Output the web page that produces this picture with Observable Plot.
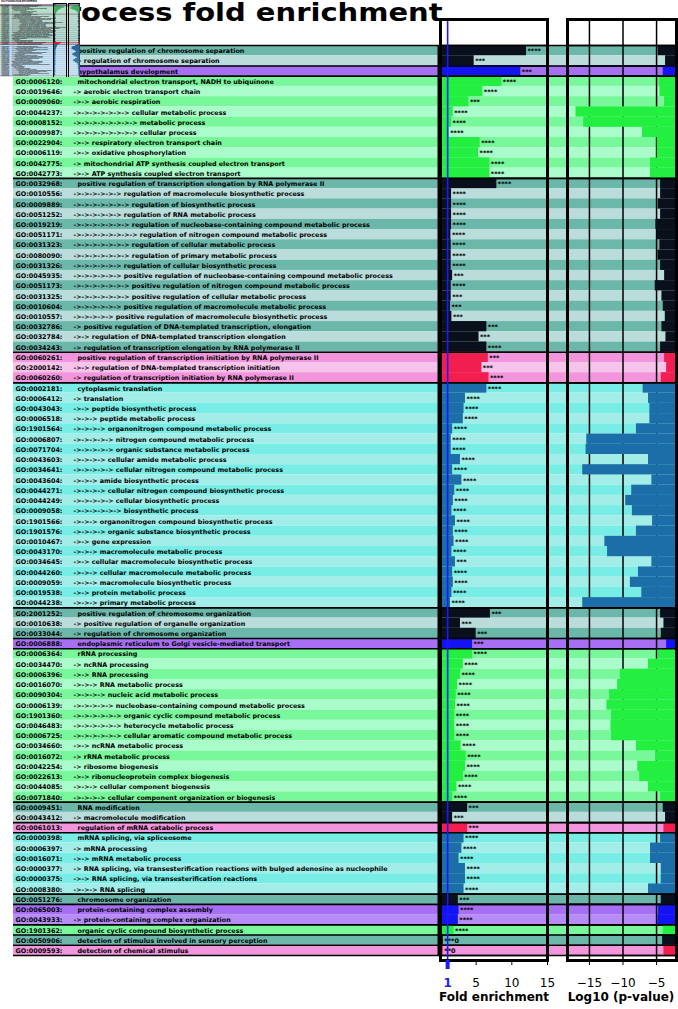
<!DOCTYPE html>
<html><head><meta charset="utf-8">
<script src="https://cdn.jsdelivr.net/npm/d3@7"></script>
<script src="https://cdn.jsdelivr.net/npm/@observablehq/plot@0.6"></script>
<style>
body{margin:0;background:#fff;}
#wrap{position:relative;width:678px;height:1009px;overflow:hidden;}
#wrap svg{position:absolute;left:0;top:0;}
#title{position:absolute;left:-13px;top:-2px;font:bold 25px "DejaVu Sans",sans-serif;white-space:nowrap;color:#000;transform:scaleX(1.16);transform-origin:0 0;}
.axt{position:absolute;top:990px;font:bold 12px "DejaVu Sans",sans-serif;transform:translateX(-50%);white-space:nowrap;}
#thumb{position:absolute;left:0;top:0;width:80px;height:77px;background:#fff;overflow:hidden;}
#thumb svg{position:absolute;left:0;top:0;}
</style></head><body>
<div id="wrap"><div id="title">GO Process fold enrichment</div></div>
<script>
const goIds = ["GO:1905820:","GO:1905818:","GO:0021854:","GO:0006120:","GO:0019646:","GO:0009060:","GO:0044237:","GO:0008152:","GO:0009987:","GO:0022904:","GO:0006119:","GO:0042775:","GO:0042773:",
"GO:0032968:","GO:0010556:","GO:0009889:","GO:0051252:","GO:0019219:","GO:0051171:","GO:0031323:","GO:0080090:","GO:0031326:","GO:0045935:","GO:0051173:","GO:0031325:","GO:0010604:","GO:0010557:","GO:0032786:","GO:0032784:","GO:0034243:",
"GO:0060261:","GO:2000142:","GO:0060260:",
"GO:0002181:","GO:0006412:","GO:0043043:","GO:0006518:","GO:1901564:","GO:0006807:","GO:0071704:","GO:0043603:","GO:0034641:","GO:0043604:","GO:0044271:","GO:0044249:","GO:0009058:","GO:1901566:","GO:1901576:","GO:0010467:","GO:0043170:","GO:0034645:","GO:0044260:","GO:0009059:","GO:0019538:","GO:0044238:",
"GO:2001252:","GO:0010638:","GO:0033044:","GO:0006888:",
"GO:0006364:","GO:0034470:","GO:0006396:","GO:0016070:","GO:0090304:","GO:0006139:","GO:1901360:","GO:0046483:","GO:0006725:","GO:0034660:","GO:0016072:","GO:0042254:","GO:0022613:","GO:0044085:","GO:0071840:",
"GO:0009451:","GO:0043412:","GO:0061013:",
"GO:0000398:","GO:0006397:","GO:0016071:","GO:0000377:","GO:0000375:","GO:0008380:",
"GO:0051276:","GO:0065003:","GO:0043933:","GO:1901362:","GO:0050906:","GO:0009593:"];

const terms = ["positive regulation of chromosome separation","-> regulation of chromosome separation","hypothalamus development","mitochondrial electron transport, NADH to ubiquinone","-> aerobic electron transport chain","->-> aerobic respiration","->->->->->->-> cellular metabolic process","->->->->->->->-> metabolic process","->->->->->->->-> cellular process","->-> respiratory electron transport chain","->-> oxidative phosphorylation","-> mitochondrial ATP synthesis coupled electron transport","->-> ATP synthesis coupled electron transport",
"positive regulation of transcription elongation by RNA polymerase II","->->->->->-> regulation of macromolecule biosynthetic process","->->->->->->-> regulation of biosynthetic process","->->->->->-> regulation of RNA metabolic process","->->->->->->-> regulation of nucleobase-containing compound metabolic process","->->->->->->->-> regulation of nitrogen compound metabolic process","->->->->->->-> regulation of cellular metabolic process","->->->->->->-> regulation of primary metabolic process","->->->->->-> regulation of cellular biosynthetic process","->->->->->-> positive regulation of nucleobase-containing compound metabolic process","->->->->->->-> positive regulation of nitrogen compound metabolic process","->->->->->->-> positive regulation of cellular metabolic process","->->->->->-> positive regulation of macromolecule metabolic process","->->->->-> positive regulation of macromolecule biosynthetic process","-> positive regulation of DNA-templated transcription, elongation","->-> regulation of DNA-templated transcription elongation","-> regulation of transcription elongation by RNA polymerase II",
"positive regulation of transcription initiation by RNA polymerase II","->-> regulation of DNA-templated transcription initiation","-> regulation of transcription initiation by RNA polymerase II",
"cytoplasmic translation","-> translation","->-> peptide biosynthetic process","->->-> peptide metabolic process","->->->-> organonitrogen compound metabolic process","->->->->-> nitrogen compound metabolic process","->->->->-> organic substance metabolic process","->->->-> cellular amide metabolic process","->->->->-> cellular nitrogen compound metabolic process","->->-> amide biosynthetic process","->->->-> cellular nitrogen compound biosynthetic process","->->->->-> cellular biosynthetic process","->->->->->-> biosynthetic process","->->-> organonitrogen compound biosynthetic process","->->->-> organic substance biosynthetic process","->-> gene expression","->->-> macromolecule metabolic process","->-> cellular macromolecule biosynthetic process","->->-> cellular macromolecule metabolic process","->->-> macromolecule biosynthetic process","->-> protein metabolic process","->->-> primary metabolic process",
"positive regulation of chromosome organization","-> positive regulation of organelle organization","-> regulation of chromosome organization","endoplasmic reticulum to Golgi vesicle-mediated transport",
"rRNA processing","-> ncRNA processing","->-> RNA processing","->->-> RNA metabolic process","->->->-> nucleic acid metabolic process","->->->->-> nucleobase-containing compound metabolic process","->->->->->-> organic cyclic compound metabolic process","->->->->->-> heterocycle metabolic process","->->->->->-> cellular aromatic compound metabolic process","->-> ncRNA metabolic process","-> rRNA metabolic process","-> ribosome biogenesis","->-> ribonucleoprotein complex biogenesis","->->-> cellular component biogenesis","->->->-> cellular component organization or biogenesis",
"RNA modification","-> macromolecule modification","regulation of mRNA catabolic process",
"mRNA splicing, via spliceosome","-> mRNA processing","->-> mRNA metabolic process","-> RNA splicing, via transesterification reactions with bulged adenosine as nucleophile","->-> RNA splicing, via transesterification reactions","->->-> RNA splicing",
"chromosome organization","protein-containing complex assembly","-> protein-containing complex organization","organic cyclic compound biosynthetic process","detection of stimulus involved in sensory perception","detection of chemical stimulus"];

// clusters: category and number of rows
const clusterKinds = ["teal","purple","green","teal","pink","cyan","teal","purple","green","teal","pink","cyan","teal","purple","green","teal","pink"];
const clusterSizes = [2,1,10,17,3,22,3,1,15,2,1,6,1,2,1,1,1];

const foldEnrichment = [12.06,4.72,11.26,8.6,5.94,3.98,1.78,1.55,1.22,5.56,5.34,6.92,6.92,
7.9,1.55,1.55,1.55,1.55,1.46,1.5,1.5,1.5,1.7,1.5,1.5,1.4,1.6,6.5,5.4,6.5,
6.7,5.8,6.8,
6.5,3.5,3.3,3.2,1.7,1.5,1.5,2.8,1.7,3.0,2.0,1.8,1.6,2.1,1.8,1.9,1.6,2.1,1.7,1.8,1.6,1.4,
7.0,2.8,5.0,4.5,
4.5,3.2,2.8,2.4,2.2,2.1,2.0,2.0,2.0,2.9,3.6,3.5,3.2,2.3,1.7,
3.8,1.7,3.8,
3.3,3.0,2.6,3.5,3.5,3.3,
2.5,2.6,2.5,1.9,0.4,0.4];

const log10p = [-4.75,-3.66,-4.0,-4.6,-4.5,-3.8,-17.0,-15.85,-7.1,-4.9,-4.9,-5.9,-5.9,
-4.4,-4.4,-4.75,-4.4,-5.1,-4.9,-4.5,-4.8,-4.4,-3.8,-5.2,-4.2,-4.0,-3.7,-4.2,-3.6,-4.4,
-3.8,-3.5,-4.3,
-7.0,-6.2,-6.0,-6.0,-8.0,-15.4,-15.5,-6.2,-16.0,-5.7,-8.7,-9.6,-8.6,-5.6,-8.0,-12.7,-12.3,-5.7,-7.7,-8.9,-7.2,-16.0,
-4.4,-3.9,-4.3,-3.5,
-4.8,-6.2,-10.4,-10.8,-12.0,-12.4,-11.7,-11.8,-11.7,-8.0,-5.1,-7.8,-7.5,-6.2,-4.4,
-4.0,-3.66,-3.9,
-4.4,-5.9,-5.9,-4.3,-4.3,-6.2,
-4.3,-4.7,-4.8,-4.0,-4.1,-3.9];

const stars = ["****","***","***","****","****","***","****","****","****","****","****","****","****",
"****","****","****","****","****","****","****","****","****","***","****","***","***","***","***","***","****",
"***","***","****",
"****","****","****","****","****","****","****","****","****","****","****","****","****","****","****","****","****","***","****","****","****","****",
"***","***","***","***",
"****","****","****","****","****","****","****","****","****","****","****","****","****","****","****",
"***","***","***",
"****","****","****","****","****","****",
"***","****","****","****","***0","**0"];

const foldTicks = [5,10,15];
const refFold = [1];
const pTicks = [-15,-10,-5];

// miniature copy of an earlier chart sitting in the top-left corner
const thumbTitle = "GO Process fold enrichment";
const thumbKinds = ["purple","green","teal","pink","cyan"];
const thumbSizes = [1,8,28,2,31];
const thumbFold = [2.0, 6,7,5,4,3,2.5,2,1.5,
1.5,1.2,1.4,1.3,1.6,1.2,1.3,1.5,1.2,1.4,1.3,1.2,1.6,1.4,1.3,1.2,1.5,1.3,1.2,1.4,1.3,1.5,1.2,1.3,1.4,1.3,1.2,1.5,
5,4,
3,2.5,2.2,2,1.8,1.6,1.5,1.5,1.4,1.6,1.5,1.4,1.3,1.5,1.4,1.3,1.6,1.4,1.3,1.5,1.4,1.3,1.2,1.4,1.3,1.2,1.5,1.3,1.2,1.4,1.3];
const thumbLog10p = [-3, -8,-10,-12,-9,-6,-4,-3,-3,
-2.5,-2,-3,-2.2,-2.8,-2,-2.4,-3,-2.1,-2.6,-2.2,-2,-2.9,-2.4,-2.1,-2,-2.7,-2.3,-2,-2.5,-2.2,-2.8,-2,-2.3,-2.6,-2.2,-2.5,-2.1,
-3,-2.5,
-4,-6,-9,-10,-10,-8,-6,-5,-7,-9,-9,-7,-5,-4,-6,-8,-8,-6,-4,-3,-3,-2.5,-2.5,-3,-2.5,-2,-2.5,-2,-2,-2.5,-2];

// ---- styling ----
const bandColors = {teal:["#6bb8aa","#badddb"], purple:["#a76ff4","#b78cf6"], green:["#78f79b","#aafccb"], pink:["#f295dc","#f6c3ea"], cyan:["#78ede5","#a2ede8"]};
const barColors = {teal:"#0a0f1c", purple:"#1414f2", green:"#22ef40", pink:"#f11e4f", cyan:"#1b6ea7"};
const thumbBand = {purple:["#7a2f8f","#7a2f8f"], green:["#8ccaa8","#b3dcc6"], teal:["#92c2b5","#bbd9d1"], pink:["#f1a3b6","#f1a3b6"], cyan:["#9ec8e2","#c3deee"]};
const thumbBar = {purple:"#2a0e5a", green:"#1c9a3e", teal:"#0d1a24", pink:"#e8102a", cyan:"#1c5a90"};
const FONT = "DejaVu Sans";

function buildRows(kinds, sizes, extra) {
  const out = [], b = [0];
  let k = 0;
  kinds.forEach((kind, c) => {
    for (let j = 0; j < sizes[c]; j++, k++) out.push({i: k, kind, alt: j % 2, ...extra(k)});
    b.push(k);
  });
  return [out, b];
}
const [rows, bounds] = buildRows(clusterKinds, clusterSizes, k => ({go: goIds[k], term: terms[k], top: !terms[k].startsWith("->"), fold: foldEnrichment[k], p: log10p[k], stars: stars[k]}));

const W = 678, H = 1009, MT = 19, MB = 49;
const N = rows.length;
const rowPx = 10.2247;
const yOpt = {domain: [N + 5 / rowPx, -26 / rowPx], axis: null};
const base = {width: W, height: H, marginTop: MT, marginBottom: MB, style: {background: "transparent", overflow: "visible"}};
const bandFill = d => bandColors[d.kind][d.alt];
const barFill = d => barColors[d.kind];

// background bands + cluster separators
const bg = Plot.plot({...base, marginLeft: 13, marginRight: 2,
  x: {domain: [0, 1], axis: null}, y: yOpt,
  marks: [
    Plot.rect(rows, {x1: 0, x2: 1, y1: "i", y2: d => d.i + 1, fill: bandFill}),
    Plot.ruleY(bounds, {y: d => d, x1: 0, x2: 1, stroke: "#000", strokeWidth: 1.6})
  ]});

const labels = Plot.plot({...base, marginLeft: 13, marginRight: 240,
  x: {domain: [0, 1], axis: null}, y: yOpt,
  marks: [
    Plot.text(rows, {x: 0, y: d => d.i + 0.5, text: "go", textAnchor: "start", dx: 2, dy: 0.5, fontSize: 6.4, fontWeight: "bold", fontFamily: FONT, fill: "#000"}),
    Plot.text(rows, {x: 0, y: d => d.i + 0.5, text: "term", textAnchor: "start", dy: 0.5, fontSize: 6.4, fontWeight: "bold", fontFamily: FONT, fill: "#000"}),
    Plot.ruleX([1], {y1: 0, y2: N, stroke: "#000", strokeWidth: 2})
  ]});
labels.querySelectorAll("g[aria-label='text']")[1].querySelectorAll("text").forEach((t, idx) => {
  t.setAttribute("dx", rows[idx].top ? 64 : 60);
});

const fold = Plot.plot({...base, marginLeft: 440, marginRight: 131,
  x: {domain: [0, 15], axis: null}, y: yOpt,
  marks: [
    Plot.rect(rows, {x1: 0, x2: "fold", y1: "i", y2: d => d.i + 1, fill: barFill}),
    Plot.ruleY(bounds, {y: d => d, stroke: "#000", strokeWidth: 1.6}),
    Plot.text(rows, {x: "fold", y: d => d.i + 0.5, text: "stars", textAnchor: "start", dx: 1, dy: 0.5, fontSize: 6.4, fontWeight: "bold", fontFamily: FONT, fill: "#000"}),
    Plot.ruleX(refFold, {stroke: "#1a1aff", strokeWidth: 1.6}),
    Plot.frame({stroke: "#000", strokeWidth: 3}),
    Plot.axisX(foldTicks, {tickSize: 5, fontSize: 12, fontFamily: FONT, label: null, tickPadding: 13}),
    Plot.axisX(refFold, {tickSize: 9, stroke: "#1a1aff", strokeWidth: 4, fill: "#1a1aff", fontSize: 12, fontWeight: "bold", fontFamily: FONT, label: null, tickPadding: 9})
  ]});

const pv = Plot.plot({...base, marginLeft: 567, marginRight: 2,
  x: {domain: [-18.27, -2.03], axis: null}, y: yOpt,
  marks: [
    Plot.ruleX(pTicks, {stroke: "#000", strokeWidth: 1.5}),
    Plot.rect(rows, {x1: "p", x2: 0, y1: "i", y2: d => d.i + 1, fill: barFill, clip: true}),
    Plot.ruleY(bounds, {y: d => d, stroke: "#000", strokeWidth: 1.6}),
    Plot.frame({stroke: "#000", strokeWidth: 3}),
    Plot.axisX(pTicks, {tickSize: 5, fontSize: 12, fontFamily: FONT, label: null, tickPadding: 13})
  ]});

const wrap = document.getElementById("wrap");
[bg, labels, fold, pv].forEach(s => wrap.appendChild(s));
const t1 = document.createElement("div"); t1.className = "axt"; t1.style.left = "494px"; t1.textContent = "Fold enrichment"; wrap.appendChild(t1);
const t2 = document.createElement("div"); t2.className = "axt"; t2.style.left = "621px"; t2.textContent = "Log10 (p-value)"; wrap.appendChild(t2);

// ---- thumbnail ----
const [tRows, tBounds] = buildRows(thumbKinds, thumbSizes, k => ({fold: thumbFold[k], p: thumbLog10p[k], term: terms[k], go: goIds[k]}));
const TN = tRows.length, tPx = 71 / TN;
const tBase = {width: 80, height: 78, marginTop: 3, marginBottom: 1, style: {background: "transparent", overflow: "visible"}};
const tY = {domain: [TN + 1.5 / tPx, -1.5 / tPx], axis: null};
const tbg = Plot.plot({...tBase, marginLeft: 0, marginRight: 0, x: {domain: [0, 1], axis: null}, y: tY,
  marks: [
    Plot.rect(tRows, {x1: 0, x2: 1, y1: "i", y2: d => d.i + 1, fill: d => thumbBand[d.kind][d.alt]}),
    Plot.ruleY(tBounds, {y: d => d, stroke: "#333", strokeWidth: 0.4}),
    Plot.text(tRows, {x: 0, y: d => d.i + 0.5, text: "go", textAnchor: "start", dx: 1, fontSize: 1.3, fontWeight: "bold", fill: "#222"}),
    Plot.text(tRows, {x: 0, y: d => d.i + 0.5, text: "term", textAnchor: "start", dx: 11, fontSize: 1.3, fontWeight: "bold", fill: "#222"}),
    Plot.text([thumbTitle], {frameAnchor: "top-left", text: d => d, dy: -3, dx: 0.5, fontSize: 2.6, fontWeight: "bold", fill: "#000"})
  ]});
const tfold = Plot.plot({...tBase, marginLeft: 53, marginRight: 14, x: {domain: [0, 8], axis: null}, y: tY,
  marks: [
    Plot.rect(tRows, {x1: 0, x2: "fold", y1: "i", y2: d => d.i + 1, fill: d => thumbBar[d.kind]}),
    Plot.frame({stroke: "#000", strokeWidth: 1})
  ]});
const tp = Plot.plot({...tBase, marginLeft: 68, marginRight: 0.5, x: {domain: [-14, -1], axis: null}, y: tY,
  marks: [
    Plot.rect(tRows, {x1: "p", x2: 0, y1: "i", y2: d => d.i + 1, fill: d => thumbBar[d.kind], clip: true}),
    Plot.frame({stroke: "#000", strokeWidth: 1})
  ]});
const thumb = document.createElement("div"); thumb.id = "thumb";
[tbg, tfold, tp].forEach(s => thumb.appendChild(s));
wrap.appendChild(thumb);
</script>
</body></html>
